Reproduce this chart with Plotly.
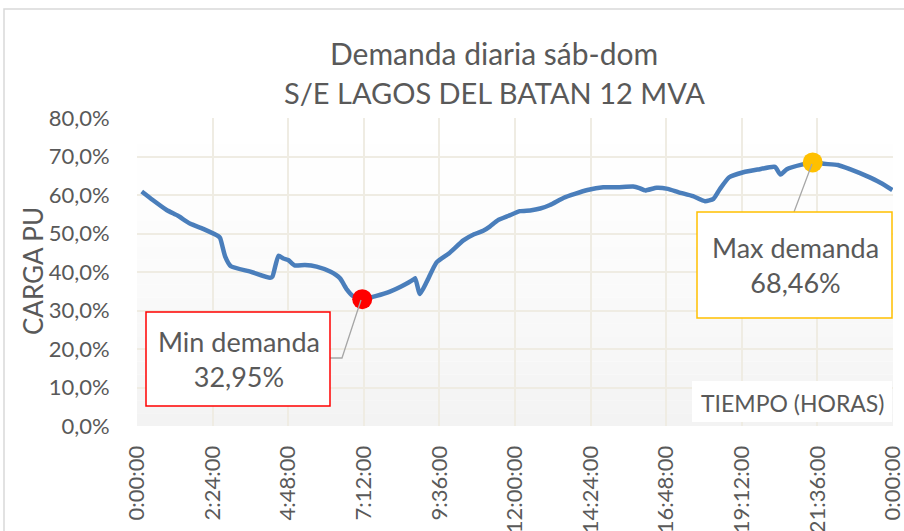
import plotly.graph_objects as go

# ---------------- data ----------------
hours = [0.15, 0.5, 0.94, 1.3, 1.68, 2.1, 2.58, 2.64, 2.8, 2.98, 3.6, 4.22, 4.3,
         4.49, 4.65, 4.8, 5.0, 5.33, 5.7, 6.13, 6.44, 6.66, 6.85, 7.15, 7.6,
         8.03, 8.4, 8.77, 8.83, 8.98, 9.2, 9.51, 9.9, 10.36, 10.7, 10.99, 11.2,
         11.45, 11.8, 12.16, 12.48, 12.8, 13.11, 13.55, 13.9, 14.3, 14.8, 15.25,
         15.75, 15.95, 16.13, 16.5, 16.85, 17.2, 17.65, 18.03, 18.3, 18.5, 18.8,
         19.25, 19.7, 20.25, 20.43, 20.63, 21.1, 21.45, 21.8, 22.25, 22.63,
         23.17, 23.6, 23.98]
carga = [60.9, 58.7, 56.1, 54.6, 52.6, 51.2, 49.3, 48.8, 44.0, 41.5, 40.1, 38.5,
         38.8, 44.2, 43.5, 43.1, 41.7, 41.8, 41.4, 40.1, 38.4, 35.5, 33.8, 32.95,
         33.8, 34.9, 36.3, 38.0, 38.4, 34.3, 37.5, 42.5, 44.8, 48.2, 49.8, 50.7,
         51.8, 53.4, 54.6, 55.8, 56.0, 56.5, 57.4, 59.3, 60.3, 61.3, 62.0, 62.0,
         62.2, 61.8, 61.2, 61.9, 61.6, 60.7, 59.7, 58.4, 59.0, 61.5, 64.6, 65.9,
         66.6, 67.3, 65.3, 66.7, 67.9, 68.46, 68.1, 67.8, 66.7, 64.9, 63.2, 61.3]

min_hour, min_val = 7.15, 32.95
max_hour, max_val = 21.45, 68.46

tick_labels = ["0:00:00", "2:24:00", "4:48:00", "7:12:00", "9:36:00", "12:00:00",
               "14:24:00", "16:48:00", "19:12:00", "21:36:00", "0:00:00"]
y_ticks = [0, 10, 20, 30, 40, 50, 60, 70, 80]
y_labels = ["0,0%", "10,0%", "20,0%", "30,0%", "40,0%", "50,0%", "60,0%", "70,0%", "80,0%"]

title_l1 = "Demanda diaria sáb-dom"
title_l2 = "S/E LAGOS DEL BATAN 12 MVA"

# ---------------- layout helpers ----------------
W, H = 904, 531
L, R, T, B = 137, 893, 118, 426
def xp(px): return (px - L) / (R - L)
def yp(py): return (B - py) / (B - T)

FONT = "Lato"
GRAY = "#595959"

day = [h / 24 for h in hours]

fig = go.Figure()
fig.add_trace(go.Scatter(x=day, y=carga, mode="lines",
                         line=dict(color="#4a7ebb", width=4.5, shape="spline", smoothing=0.5),
                         hoverinfo="skip", showlegend=False))
fig.add_trace(go.Scatter(x=[min_hour / 24], y=[min_val], mode="markers",
                         marker=dict(color="#ff0000", size=20), showlegend=False))
fig.add_trace(go.Scatter(x=[max_hour / 24], y=[max_val], mode="markers",
                         marker=dict(color="#ffc000", size=20), showlegend=False))

shapes = []
# subtle vertical gradient in plot area
n = 24
for i in range(n):
    frac = i / n
    g = int(round(255 - 12 * (1 - frac) ** 1.5))
    shapes.append(dict(type="rect", xref="paper", yref="paper", x0=0, x1=1,
                       y0=i / n, y1=(i + 1) / n, fillcolor=f"rgb({g},{g},{g})",
                       line=dict(width=0), layer="below"))
# outer chart frame
shapes.append(dict(type="rect", xref="paper", yref="paper",
                   x0=xp(4), x1=xp(920), y0=yp(9), y1=yp(545),
                   line=dict(color="#d9d9d9", width=1.5), fillcolor="rgba(0,0,0,0)", layer="below"))
# leader lines
shapes.append(dict(type="path", xref="paper", yref="paper",
                   path=f"M {xp(361)},{yp(300)} L {xp(342)},{yp(358)} L {xp(330)},{yp(358)}",
                   line=dict(color="#a6a6a6", width=1.3)))
shapes.append(dict(type="line", xref="paper", yref="paper",
                   x0=xp(812), y0=yp(164), x1=xp(794), y1=yp(212),
                   line=dict(color="#a6a6a6", width=1.3)))
# callout boxes
shapes.append(dict(type="rect", xref="paper", yref="paper",
                   x0=xp(146), x1=xp(330), y0=yp(406), y1=yp(312),
                   fillcolor="white", line=dict(color="#ff0000", width=1.5)))
shapes.append(dict(type="rect", xref="paper", yref="paper",
                   x0=xp(697), x1=xp(892), y0=yp(318), y1=yp(212),
                   fillcolor="white", line=dict(color="#ffc000", width=1.5)))
# axis-title background
shapes.append(dict(type="rect", xref="paper", yref="paper",
                   x0=xp(692), x1=xp(892), y0=yp(422), y1=yp(381),
                   fillcolor="white", line=dict(width=0)))

annotations = [
    dict(text=title_l1, x=xp(494), y=yp(53), xref="paper", yref="paper", showarrow=False,
         font=dict(family=FONT, size=30, color=GRAY), xanchor="center", yanchor="middle"),
    dict(text=title_l2, x=xp(494), y=yp(93), xref="paper", yref="paper", showarrow=False,
         font=dict(family=FONT, size=29, color=GRAY), xanchor="center", yanchor="middle"),
    dict(text=f"Min demanda<br>{str(min_val).replace('.', ',')}%", x=xp(239), y=yp(359),
         xref="paper", yref="paper", showarrow=False, align="center",
         font=dict(family=FONT, size=27, color=GRAY), xanchor="center", yanchor="middle"),
    dict(text=f"Max demanda<br>{str(max_val).replace('.', ',')}%", x=xp(795), y=yp(265),
         xref="paper", yref="paper", showarrow=False, align="center",
         font=dict(family=FONT, size=27, color=GRAY), xanchor="center", yanchor="middle"),
    dict(text="TIEMPO (HORAS)", x=xp(792), y=yp(403), xref="paper", yref="paper",
         showarrow=False, font=dict(family=FONT, size=23, color=GRAY),
         xanchor="center", yanchor="middle"),
    dict(text="CARGA PU", x=xp(33), y=yp(271), xref="paper", yref="paper", textangle=-90,
         showarrow=False, font=dict(family=FONT, size=26, color=GRAY),
         xanchor="center", yanchor="middle"),
]

fig.update_layout(
    template="none",
    width=W, height=H,
    margin=dict(l=L, r=W - R, t=T, b=H - B, autoexpand=False),
    paper_bgcolor="white", plot_bgcolor="white",
    shapes=shapes, annotations=annotations,
    xaxis=dict(range=[0, 1], tickvals=[i / 10 for i in range(11)], ticktext=tick_labels,
               tickangle=-90, showgrid=True, gridcolor="#efece3", gridwidth=1.5,
               zeroline=False, showline=False, automargin=False, ticklabeloverflow="allow",
               ticks="outside", ticklen=10, tickcolor="rgba(0,0,0,0)",
               tickfont=dict(family=FONT, size=22, color=GRAY)),
    yaxis=dict(range=[0, 80], tickvals=y_ticks, ticktext=y_labels,
               showgrid=True, gridcolor="#efece3", gridwidth=1.5,
               zeroline=False, showline=False, automargin=False,
               ticks="outside", ticklen=22, tickcolor="rgba(0,0,0,0)",
               tickfont=dict(family=FONT, size=22, color=GRAY)),
)

fig.write_html("out.html", config={"displayModeBar": False},
               post_script="document.body.style.margin='0';document.body.style.overflow='hidden';")
